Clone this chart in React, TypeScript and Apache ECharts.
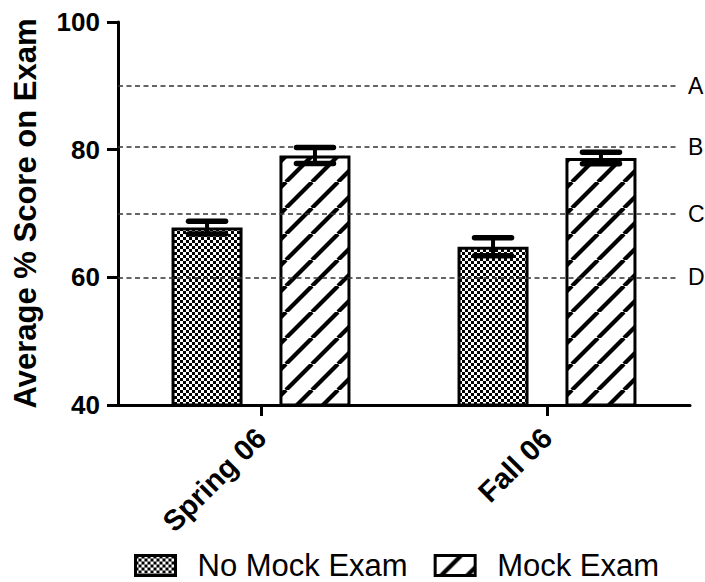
import React, { useEffect, useRef } from 'react';
import * as echarts from 'echarts';

const categories = ['Spring 06', 'Fall 06'];
const seriesNames = ['No Mock Exam', 'Mock Exam'];
const noMockMeans = [67.8, 64.8];
const noMockErrors = [1.0, 1.4];
const mockMeans = [79.1, 78.7];
const mockErrors = [1.25, 0.9];
const gradeLabels = ['A', 'B', 'C', 'D'];
const gradeCutoffs = [90, 80.4, 70, 60];
const yMin = 40;
const yMax = 100;
const yInterval = 20;

const FONT = '"Liberation Sans", Arial, sans-serif';

function makeChecker() {
  const s = 6;
  const c = document.createElement('canvas');
  c.width = s;
  c.height = s;
  const ctx = c.getContext('2d')!;
  ctx.fillStyle = '#fff';
  ctx.fillRect(0, 0, s, s);
  ctx.fillStyle = '#000';
  ctx.fillRect(0, 0, s / 2, s / 2);
  ctx.fillRect(s / 2, s / 2, s / 2, s / 2);
  return { image: c.toDataURL(), repeat: 'repeat', imageWidth: s, imageHeight: s };
}

function makeHatch() {
  const s = 26;
  const c = document.createElement('canvas');
  c.width = s;
  c.height = s;
  const ctx = c.getContext('2d')!;
  ctx.fillStyle = '#fff';
  ctx.fillRect(0, 0, s, s);
  ctx.strokeStyle = '#000';
  ctx.lineWidth = 4.2;
  for (const off of [-s, 0, s]) {
    ctx.beginPath();
    ctx.moveTo(off, s);
    ctx.lineTo(off + s, 0);
    ctx.stroke();
  }
  return { image: c.toDataURL(), repeat: 'repeat', imageWidth: s, imageHeight: s };
}

export default function App() {
  const ref = useRef<HTMLDivElement>(null);

  useEffect(() => {
    document.body.style.margin = '0';
    if (!ref.current) return;
    const chart = echarts.init(ref.current, undefined, { renderer: 'svg' });

    const barWidth = 71;
    const barGapRatio = 0.52;
    const offset = (barWidth * (1 + barGapRatio)) / 2;
    const capHalf = 18.5;

    const makeRender = (dx: number) => (params: any, api: any) => {
      const x = api.value(0);
      const m = api.value(1);
      const e = api.value(2);
      const hi = api.coord([x, m + e]);
      const lo = api.coord([x, m - e]);
      const cx = hi[0] + dx;
      return {
        type: 'group',
        children: [
          {
            type: 'line',
            shape: { x1: cx, y1: hi[1], x2: cx, y2: lo[1] },
            style: { stroke: '#000', lineWidth: 4 },
          },
          {
            type: 'line',
            shape: { x1: cx - capHalf, y1: hi[1], x2: cx + capHalf, y2: hi[1] },
            style: { stroke: '#000', lineWidth: 5.5, lineCap: 'round' },
          },
          {
            type: 'line',
            shape: { x1: cx - capHalf, y1: lo[1], x2: cx + capHalf, y2: lo[1] },
            style: { stroke: '#000', lineWidth: 5.5, lineCap: 'round' },
          },
        ],
      };
    };

    const axisLineStyle = { color: '#000', width: 3 };

    const option: any = {
      animation: false,
      grid: { left: 118, right: 15, top: 22, bottom: 177 },
      xAxis: {
        type: 'category',
        data: categories,
        axisLine: { show: true, lineStyle: axisLineStyle },
        axisTick: { show: true, alignWithLabel: true, length: 11, lineStyle: axisLineStyle },
        axisLabel: {
          rotate: 45,
          margin: 28,
          fontSize: 29,
          fontWeight: 'bold',
          color: '#000',
          fontFamily: FONT,
        },
        splitLine: { show: false },
      },
      yAxis: {
        type: 'value',
        min: yMin,
        max: yMax,
        interval: yInterval,
        name: 'Average % Score on Exam',
        nameLocation: 'middle',
        nameGap: 77,
        nameTextStyle: { fontSize: 31, fontWeight: 'bold', color: '#000', fontFamily: FONT },
        axisLine: { show: true, lineStyle: axisLineStyle },
        axisTick: { show: true, length: 11, lineStyle: axisLineStyle },
        axisLabel: { margin: 18, fontSize: 26, fontWeight: 'bold', color: '#000', fontFamily: FONT },
        splitLine: { show: false },
      },
      legend: {
        data: seriesNames,
        left: 134,
        top: 550,
        padding: 0,
        icon: 'rect',
        itemWidth: 40,
        itemHeight: 20,
        itemGap: 26,
        itemStyle: { borderColor: '#000', borderWidth: 3 },
        textStyle: { fontSize: 31, color: '#000', fontFamily: FONT, padding: [0, 0, 0, 17] },
      },
      series: [
        {
          name: seriesNames[0],
          type: 'bar',
          data: noMockMeans,
          barWidth,
          barGap: barGapRatio * 100 + '%',
          itemStyle: { color: makeChecker(), borderColor: '#000', borderWidth: 3 },
          markLine: {
            silent: true,
            symbol: 'none',
            lineStyle: { type: [5, 3.5], color: '#333', width: 1.6 },
            label: {
              show: true,
              position: 'end',
              distance: 10,
              formatter: '{b}',
              fontSize: 23,
              color: '#000',
              fontFamily: FONT,
              padding: [0, 0, 19, 0],
            },
            data: gradeCutoffs.map((v, i) => [
              { name: gradeLabels[i], x: 118, yAxis: v },
              { x: 678, yAxis: v },
            ]),
          },
        },
        {
          name: seriesNames[1],
          type: 'bar',
          data: mockMeans,
          barWidth,
          barGap: barGapRatio * 100 + '%',
          itemStyle: { color: makeHatch(), borderColor: '#000', borderWidth: 3 },
        },
        {
          type: 'custom',
          name: 'errNoMock',
          z: 10,
          renderItem: makeRender(-offset),
          encode: { x: 0, y: 1 },
          data: categories.map((_, i) => [i, noMockMeans[i], noMockErrors[i]]),
        },
        {
          type: 'custom',
          name: 'errMock',
          z: 10,
          renderItem: makeRender(offset),
          encode: { x: 0, y: 1 },
          data: categories.map((_, i) => [i, mockMeans[i], mockErrors[i]]),
        },
      ],
    };

    chart.setOption(option);
    return () => chart.dispose();
  }, []);

  return <div ref={ref} style={{ width: 705, height: 582 }} />;
}
